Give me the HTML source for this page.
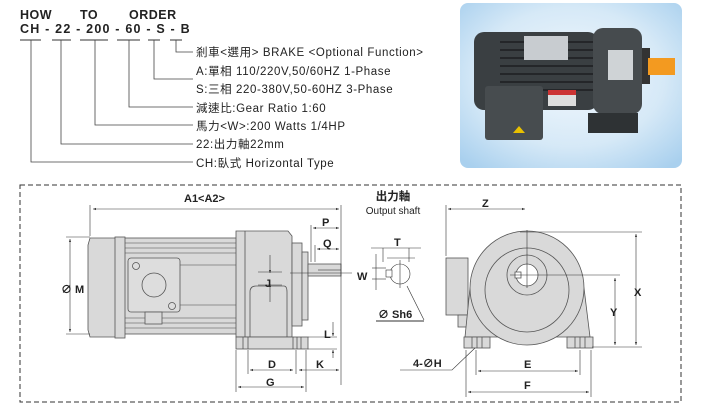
<!DOCTYPE html>
<html><head><meta charset="utf-8"><style>
html,body{margin:0;padding:0;background:#fff;}
body{width:701px;height:411px;overflow:hidden;position:relative;}
svg{position:absolute;left:0;top:0;}
text{font-family:"Liberation Sans","Noto Sans CJK TC",sans-serif;}
</style></head><body>
<svg width="701" height="411" viewBox="0 0 701 411" xmlns="http://www.w3.org/2000/svg">
<defs>
<radialGradient id="bg" cx="0.5" cy="0.45" r="0.7">
<stop offset="0" stop-color="#f2f8fd"/><stop offset="0.6" stop-color="#d6e9f7"/><stop offset="1" stop-color="#a9d0ee"/>
</radialGradient>
<marker id="a" viewBox="0 0 6 6" refX="6" refY="3" markerWidth="5" markerHeight="5" orient="auto-start-reverse"><path d="M0,0.8 L6,3 L0,5.2z" fill="#333"/></marker>
</defs>

<!-- HOW TO ORDER -->
<g font-size="12.5" font-weight="bold" fill="#222" letter-spacing="0.5">
<text x="20" y="19">HOW</text><text x="80" y="19">TO</text><text x="129" y="19">ORDER</text>
<text x="20" y="33" letter-spacing="1.2">CH - 22 - 200 - 60 - S - B</text>
</g>
<g stroke="#999" stroke-width="2">
<line x1="20" y1="40" x2="41" y2="40"/><line x1="52" y1="40" x2="71" y2="40"/>
<line x1="80" y1="40" x2="108" y2="40"/><line x1="117" y1="40" x2="140" y2="40"/>
<line x1="148" y1="40" x2="160" y2="40"/><line x1="170" y1="40" x2="182" y2="40"/>
</g>
<g stroke="#444" stroke-width="0.8" fill="none">
<polyline points="176,40 176,52 193,52"/>
<polyline points="154,40 154,79 193,79"/>
<polyline points="129,40 129,107 193,107"/>
<polyline points="95,40 95,125 193,125"/>
<polyline points="61,40 61,144 193,144"/>
<polyline points="31,40 31,162 193,162"/>
</g>
<g font-size="11.5" fill="#222" letter-spacing="0.6">
<text x="196" y="56">剎車&lt;選用&gt; BRAKE &lt;Optional Function&gt;</text>
<text x="196" y="75">A:單相 110/220V,50/60HZ 1-Phase</text>
<text x="196" y="93">S:三相 220-380V,50-60HZ 3-Phase</text>
<text x="196" y="112">減速比:Gear  Ratio 1:60</text>
<text x="196" y="130">馬力&lt;W&gt;:200   Watts  1/4HP</text>
<text x="196" y="148">22:出力軸22mm</text>
<text x="196" y="167">CH:臥式 Horizontal  Type</text>
</g>

<!-- Photo -->
<rect x="460" y="3" width="222" height="165" rx="8" fill="url(#bg)"/>
<rect x="474" y="32" width="124" height="78" rx="10" fill="#3a3f42"/>
<g stroke="#1c1f21" stroke-width="1.5"><line x1="500" y1="42" x2="595" y2="42"/><line x1="500" y1="50" x2="595" y2="50"/><line x1="500" y1="58" x2="595" y2="58"/><line x1="500" y1="66" x2="595" y2="66"/><line x1="500" y1="74" x2="595" y2="74"/><line x1="500" y1="82" x2="595" y2="82"/><line x1="500" y1="90" x2="595" y2="90"/></g>
<rect x="524" y="36" width="44" height="24" fill="#c8ccd0"/>
<rect x="548" y="90" width="28" height="16" fill="#ddd"/><rect x="548" y="90" width="28" height="5" fill="#c33"/>
<rect x="593" y="28" width="49" height="86" rx="10" fill="#464b4e"/>
<rect x="608" y="50" width="25" height="30" fill="#cfd3d6"/>
<rect x="642" y="48" width="8" height="36" fill="#333"/>
<rect x="648" y="58" width="27" height="17" fill="#f39a20"/>
<rect x="588" y="113" width="50" height="20" fill="#2e3234"/>
<rect x="485" y="86" width="58" height="54" rx="3" fill="#474c4f"/>
<path d="M513 133 l6 -7 l6 7z" fill="#e8c000"/>

<!-- dashed frame -->
<rect x="20" y="185" width="661" height="217" fill="none" stroke="#333" stroke-width="1" stroke-dasharray="5,3"/>

<!-- LEFT DRAWING -->
<g stroke="#555" stroke-width="0.8" fill="#d9d9d9">
<rect x="124" y="238" width="113" height="96"/>
<g stroke="#777" fill="none"><line x1="124" y1="243" x2="237" y2="243"/><line x1="124" y1="248" x2="237" y2="248"/><line x1="124" y1="253" x2="237" y2="253"/><line x1="124" y1="318" x2="237" y2="318"/><line x1="124" y1="323" x2="237" y2="323"/><line x1="124" y1="328" x2="237" y2="328"/><line x1="180" y1="265" x2="237" y2="265"/><line x1="180" y1="305" x2="237" y2="305"/></g>
<path d="M90,238 L118,238 L118,337 L90,337 L88,330 L88,245z"/>
<rect x="115" y="237" width="10" height="101"/>
<rect x="128" y="258" width="52" height="54" rx="3" fill="#ddd"/>
<circle cx="154" cy="285" r="12" fill="#ddd"/>
<circle cx="136" cy="266" r="3.5" fill="#ddd"/><circle cx="172" cy="306" r="3.5" fill="#ddd"/>
<rect x="145" y="312" width="17" height="12"/>
<path d="M236,231 L288,231 L292,236 L292,337 L236,337z"/>
<line x1="245" y1="231" x2="245" y2="337"/>
<path d="M250,337 L250,292 Q250,286 256,286 L284,286 Q287,286 287,292 L287,337" fill="none"/>
<rect x="292" y="243" width="10" height="83"/>
<rect x="302" y="252" width="6" height="68"/>
<rect x="308" y="264" width="33" height="12"/>
<line x1="318" y1="270" x2="341" y2="270" fill="none"/>
<rect x="236" y="337" width="72" height="12"/>
<g fill="none"><line x1="243" y1="337" x2="243" y2="349"/><line x1="248" y1="337" x2="248" y2="349"/><line x1="293" y1="337" x2="293" y2="349"/><line x1="297" y1="337" x2="297" y2="349"/><line x1="301" y1="337" x2="301" y2="349"/></g>
</g>
<g stroke="#333" stroke-width="0.6" fill="none">
<line x1="90" y1="205" x2="90" y2="236"/><line x1="341" y1="205" x2="341" y2="385"/>
<line x1="93" y1="209" x2="339" y2="209" marker-start="url(#a)" marker-end="url(#a)"/>
<line x1="66" y1="237" x2="90" y2="237"/><line x1="66" y1="334" x2="90" y2="334"/>
<line x1="70" y1="239" x2="70" y2="332" marker-start="url(#a)" marker-end="url(#a)"/>
<line x1="311" y1="225" x2="311" y2="262"/><line x1="315" y1="245" x2="315" y2="262"/>
<line x1="313" y1="228" x2="339" y2="228" marker-start="url(#a)" marker-end="url(#a)"/>
<line x1="317" y1="249" x2="339" y2="249" marker-start="url(#a)" marker-end="url(#a)"/>
<line x1="270" y1="255" x2="270" y2="273" marker-end="url(#a)"/>
<line x1="270" y1="302" x2="270" y2="284" marker-end="url(#a)"/>
<line x1="258" y1="272" x2="282" y2="272"/><line x1="258" y1="285" x2="282" y2="285"/>
<line x1="290" y1="273" x2="352" y2="273"/>
<line x1="308" y1="337" x2="337" y2="337"/><line x1="308" y1="349" x2="337" y2="349"/>
<line x1="333" y1="322" x2="333" y2="336" marker-end="url(#a)"/>
<line x1="333" y1="358" x2="333" y2="350" marker-end="url(#a)"/>
<line x1="236" y1="350" x2="236" y2="392"/><line x1="248" y1="350" x2="248" y2="374"/>
<line x1="296" y1="350" x2="296" y2="374"/><line x1="306" y1="350" x2="306" y2="392"/>
<line x1="250" y1="370" x2="293" y2="370" marker-start="url(#a)" marker-end="url(#a)"/>
<line x1="299" y1="370" x2="339" y2="370" marker-start="url(#a)" marker-end="url(#a)"/>
<line x1="238" y1="387" x2="304" y2="387" marker-start="url(#a)" marker-end="url(#a)"/>
</g>
<g font-size="11" font-weight="bold" fill="#222">
<text x="184" y="202">A1&lt;A2&gt;</text>
<text x="61" y="293">∅ M</text>
<text x="322" y="226">P</text><text x="323" y="247">Q</text>
<text x="265" y="287">J</text>
<text x="324" y="338">L</text>
<text x="268" y="368">D</text><text x="316" y="368">K</text><text x="266" y="386">G</text>
</g>

<!-- RIGHT: output shaft -->
<g font-weight="bold" fill="#222">
<text x="393" y="200" font-size="11.5" text-anchor="middle">出力軸</text>
<text x="393" y="214" font-size="10" text-anchor="middle" font-weight="normal">Output shaft</text>
<text x="394" y="246" font-size="11">T</text>
<text x="357" y="280" font-size="11">W</text>
<text x="378" y="318" font-size="11">∅ Sh6</text>
</g>
<g stroke="#333" stroke-width="0.6" fill="none">
<circle cx="400" cy="274" r="10" fill="#fff"/>
<rect x="386" y="270" width="6" height="7" fill="#fff"/>
<line x1="387" y1="258" x2="415" y2="258"/><line x1="400" y1="260" x2="400" y2="288"/>
<line x1="371" y1="248" x2="421" y2="248"/>
<line x1="383" y1="248" x2="383" y2="262"/><line x1="409" y1="248" x2="409" y2="262"/>
<line x1="376" y1="254" x2="376" y2="290"/>
<line x1="372" y1="268" x2="386" y2="268"/><line x1="372" y1="279" x2="386" y2="279"/>
<line x1="376" y1="321" x2="424" y2="321" stroke-width="1.5" stroke="#777"/>
<line x1="424" y1="320" x2="407" y2="286"/>
</g>

<!-- RIGHT: front view -->
<g stroke="#555" stroke-width="0.8" fill="#d9d9d9">
<rect x="446" y="258" width="22" height="57"/>
<rect x="458" y="315" width="10" height="12"/>
<path d="M470,288 L465,337 L590,337 L584,288z"/>
<circle cx="527" cy="288" r="57"/>
<circle cx="527" cy="290" r="42" fill="none"/>
<circle cx="527" cy="275" r="20"/>
<circle cx="527" cy="275" r="11" fill="#fff"/>
<rect x="515" y="272" width="6" height="6" fill="#fff"/>
<rect x="464" y="337" width="26" height="11"/>
<rect x="567" y="337" width="26" height="11"/>
<g fill="none"><line x1="472" y1="337" x2="472" y2="348"/><line x1="477" y1="337" x2="477" y2="348"/><line x1="482" y1="337" x2="482" y2="348"/><line x1="575" y1="337" x2="575" y2="348"/><line x1="580" y1="337" x2="580" y2="348"/><line x1="585" y1="337" x2="585" y2="348"/></g>
</g>
<g stroke="#333" stroke-width="0.6" fill="none">
<line x1="527" y1="230" x2="527" y2="288"/><line x1="510" y1="275" x2="620" y2="275"/>
<line x1="446" y1="205" x2="446" y2="256"/>
<line x1="448" y1="209" x2="525" y2="209" marker-start="url(#a)" marker-end="url(#a)"/>
<line x1="520" y1="232" x2="642" y2="232"/>
<line x1="592" y1="347" x2="642" y2="347"/>
<line x1="636" y1="234" x2="636" y2="345" marker-start="url(#a)" marker-end="url(#a)"/>
<line x1="615" y1="278" x2="615" y2="345" marker-start="url(#a)" marker-end="url(#a)"/>
<line x1="466" y1="350" x2="466" y2="397"/><line x1="476" y1="350" x2="476" y2="375"/>
<line x1="580" y1="350" x2="580" y2="375"/><line x1="591" y1="350" x2="591" y2="397"/>
<line x1="478" y1="371" x2="578" y2="371" marker-start="url(#a)" marker-end="url(#a)"/>
<line x1="468" y1="392" x2="589" y2="392" marker-start="url(#a)" marker-end="url(#a)"/>
<polyline points="400,370 452,370 475,348"/>
</g>
<g font-size="11" font-weight="bold" fill="#222">
<text x="482" y="207">Z</text>
<text x="634" y="296">X</text><text x="610" y="316">Y</text>
<text x="524" y="368">E</text><text x="524" y="389">F</text>
<text x="413" y="367">4-∅H</text>
</g>
</svg>
</body></html>
